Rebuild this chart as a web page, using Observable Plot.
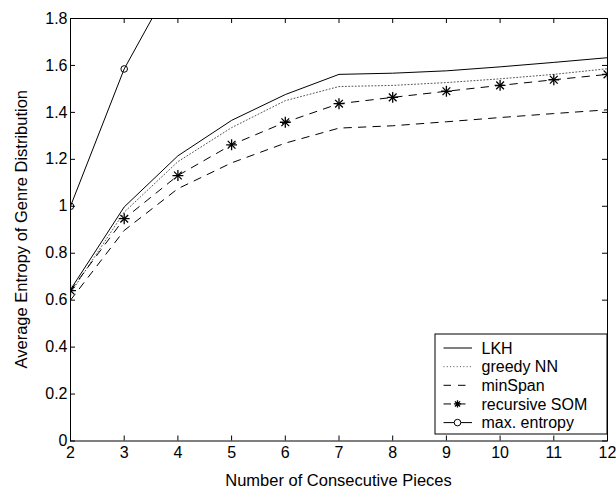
<!DOCTYPE html>
<html><head><meta charset="utf-8">
<script src="https://cdn.jsdelivr.net/npm/d3@7"></script>
<script src="https://cdn.jsdelivr.net/npm/@observablehq/plot@0.6"></script>
<style>
body{margin:0;background:#fff;}
</style>
</head><body><div id="chart"></div>
<script>
const pieces = [2,3,4,5,6,7,8,9,10,11,12];
const lkh = [0.645,0.997,1.215,1.366,1.476,1.562,1.567,1.577,1.594,1.613,1.633];
const greedyNN = [0.63,0.975,1.19,1.335,1.45,1.51,1.515,1.527,1.543,1.562,1.586];
const minSpan = [0.60,0.897,1.075,1.185,1.269,1.333,1.343,1.36,1.378,1.395,1.411];
const recursiveSOM = [0.641,0.947,1.131,1.262,1.358,1.437,1.464,1.490,1.515,1.539,1.562];
const maxEntropy = [1.0,1.585,2.0,2.322,2.585,2.807,3.0,3.17,3.322,3.459,3.585];
const seriesNames = ["LKH","greedy NN","minSpan","recursive SOM","max. entropy"];
const xTicks = [2,3,4,5,6,7,8,9,10,11,12];
const yTicks = [0,0.2,0.4,0.6,0.8,1,1.2,1.4,1.6,1.8];
const yTickLabels = ["0","0.2","0.4","0.6","0.8","1","1.2","1.4","1.6","1.8"];
const xLabel = "Number of Consecutive Pieces";
const yLabel = "Average Entropy of Genre Distribution";

const toRows = (vals) => pieces.map((p, i) => ({x: p, y: vals[i]}));
const rLKH = toRows(lkh), rNN = toRows(greedyNN), rMin = toRows(minSpan), rSOM = toRows(recursiveSOM), rMax = toRows(maxEntropy);

const DASH = "7.5,7";
const styles = [
  {stroke: "#000", dash: null},
  {stroke: "#555", dash: "1,2.3"},
  {stroke: "#000", dash: DASH},
  {stroke: "#000", dash: DASH},
  {stroke: "#000", dash: null}
];

const FONT = "'Liberation Sans', Arial, Helvetica, sans-serif";
const TICK_FS = 16, LEGEND_FS = 16, TITLE_FS = 16.5;
const W = 616, H = 488, mL = 70, mR = 9, mT = 18, mB = 47.5;
const tick = 5;
const innerW = W - mL - mR, innerH = H - mT - mB;

const chart = Plot.plot({
  width: W, height: H,
  marginLeft: mL, marginRight: mR, marginTop: mT, marginBottom: mB,
  style: {background: "#fff", color: "#000"},
  x: {domain: [2, 12]},
  y: {domain: [0, 1.8]},
  marks: [
    Plot.line(rLKH, {x: "x", y: "y", stroke: styles[0].stroke, strokeWidth: 1, clip: true}),
    Plot.line(rNN, {x: "x", y: "y", stroke: styles[1].stroke, strokeWidth: 1, strokeDasharray: styles[1].dash, clip: true}),
    Plot.line(rMin, {x: "x", y: "y", stroke: styles[2].stroke, strokeWidth: 1, strokeDasharray: styles[2].dash, clip: true}),
    Plot.line(rSOM, {x: "x", y: "y", stroke: styles[3].stroke, strokeWidth: 1, strokeDasharray: styles[3].dash, clip: true}),
    Plot.dot(rSOM, {x: "x", y: "y", symbol: "plus", r: 3.6, stroke: "#000", strokeWidth: 1.3, clip: true}),
    Plot.dot(rSOM, {x: "x", y: "y", symbol: "times", r: 3.6, stroke: "#000", strokeWidth: 1.3, clip: true}),
    Plot.line(rMax, {x: "x", y: "y", stroke: styles[4].stroke, strokeWidth: 1, clip: true}),
    Plot.dot(rMax, {x: "x", y: "y", symbol: "circle", r: 3.3, stroke: "#000", fill: "none", strokeWidth: 1, clip: true}),
    // inward ticks on all four sides
    Plot.tickX(xTicks, {x: (d) => d, insetTop: innerH - tick, stroke: "#000"}),
    Plot.tickX(xTicks, {x: (d) => d, insetBottom: innerH - tick, stroke: "#000"}),
    Plot.tickY(yTicks, {y: (d) => d, insetRight: innerW - tick, stroke: "#000"}),
    Plot.tickY(yTicks, {y: (d) => d, insetLeft: innerW - tick, stroke: "#000"}),
    Plot.axisX(xTicks, {anchor: "bottom", tickSize: 0, tickPadding: 6, fontSize: TICK_FS, label: null}),
    Plot.axisY(yTicks, {anchor: "left", tickSize: 0, tickPadding: 3, fontSize: TICK_FS, tickFormat: (d) => yTickLabels[yTicks.indexOf(d)], label: null}),
    Plot.frame({stroke: "#000", strokeWidth: 1})
  ]
});

const svg = d3.select(chart);
svg.attr("font-family", FONT);
svg.selectAll("text").attr("font-size", TICK_FS).attr("font-family", FONT).attr("fill", "#000");

// Axis titles
svg.append("text").attr("x", mL + innerW / 2).attr("y", 485.5)
  .attr("text-anchor", "middle").attr("font-size", TITLE_FS).attr("font-family", FONT).attr("fill", "#000")
  .text(xLabel);
svg.append("text").attr("transform", `translate(26.5,${mT + innerH / 2}) rotate(-90)`)
  .attr("text-anchor", "middle").attr("font-size", TITLE_FS).attr("font-family", FONT).attr("fill", "#000")
  .text(yLabel);

// Legend (drawn inside the plot area, bottom-right)
const lg = svg.append("g").attr("class", "legend").attr("text-anchor", "start");
const lx = 435, ly = 334, lw = 172, lh = 100, rowH = 18.65;
lg.append("rect").attr("x", lx).attr("y", ly).attr("width", lw).attr("height", lh)
  .attr("fill", "#fff").attr("stroke", "#000").attr("stroke-width", 1);
seriesNames.forEach((name, i) => {
  const cy = ly + 14 + i * rowH;
  const st = styles[i];
  lg.append("line").attr("x1", lx + 8.5).attr("x2", lx + 37).attr("y1", cy).attr("y2", cy)
    .attr("stroke", st.stroke).attr("stroke-width", 1)
    .attr("stroke-dasharray", st.dash);
  if (i === 3) {
    const cx = lx + 22.5, r = 3.6;
    lg.append("path").attr("d", `M${cx-r},${cy}H${cx+r}M${cx},${cy-r}V${cy+r}M${cx-r*0.72},${cy-r*0.72}L${cx+r*0.72},${cy+r*0.72}M${cx-r*0.72},${cy+r*0.72}L${cx+r*0.72},${cy-r*0.72}`)
      .attr("stroke", "#000").attr("stroke-width", 1.3).attr("fill", "none");
  }
  if (i === 4) {
    lg.append("circle").attr("cx", lx + 22.5).attr("cy", cy).attr("r", 3.3)
      .attr("fill", "#fff").attr("stroke", "#000");
  }
  lg.append("text").attr("x", lx + 46.5).attr("y", cy).attr("dy", "0.35em")
    .attr("text-anchor", "start").attr("font-size", LEGEND_FS)
    .attr("font-family", FONT).attr("fill", "#000").text(name);
});

document.getElementById("chart").appendChild(chart);
</script>
</body></html>
